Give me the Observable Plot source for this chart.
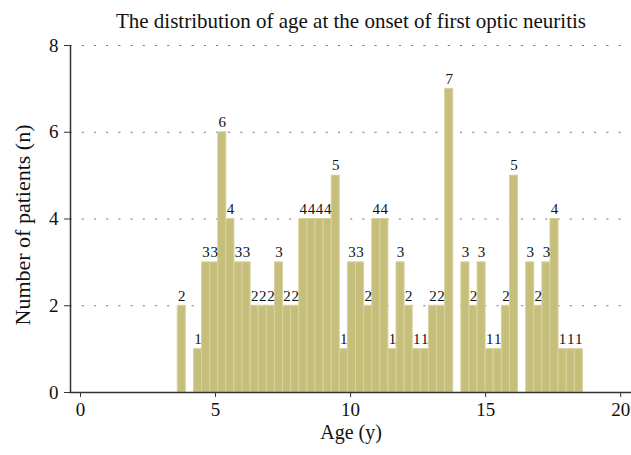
<!DOCTYPE html>
<html>
<head>
<meta charset="utf-8">
<script src="https://cdn.jsdelivr.net/npm/d3@7"></script>
<script src="https://cdn.jsdelivr.net/npm/@observablehq/plot@0.6"></script>
<style>
  html, body { margin: 0; padding: 0; background: #fff; }
  svg { font-family: "Liberation Serif", "DejaVu Serif", serif; }
</style>
</head>
<body>
<div id="chart"></div>
<script>
// Data (bin start in years, bin width 0.3 y)
const titleText = "The distribution of age at the onset of first optic neuritis";
const xLabel = "Age (y)";
const yLabel = "Number of patients (n)";
const binWidth = 0.3;
const binStarts = [3.6, 3.9, 4.2, 4.5, 4.8, 5.1, 5.4, 5.7, 6.0, 6.3,
                   6.6, 6.9, 7.2, 7.5, 7.8, 8.1, 8.4, 8.7, 9.0, 9.3,
                   9.6, 9.9, 10.2, 10.5, 10.8, 11.1, 11.4, 11.7, 12.0, 12.3,
                   12.6, 12.9, 13.2, 13.5, 13.8, 14.1, 14.4, 14.7, 15.0, 15.3,
                   15.6, 15.9, 16.2, 16.5, 16.8, 17.1, 17.4, 17.7, 18.0, 18.3];
const counts = [2, 0, 1, 3, 3, 6, 4, 3, 3, 2,
                2, 2, 3, 2, 2, 4, 4, 4, 4, 5,
                1, 3, 3, 2, 4, 4, 1, 3, 2, 1,
                1, 2, 2, 7, 0, 3, 2, 3, 1, 1,
                2, 5, 0, 3, 2, 3, 4, 1, 1, 1];
const xTicks = [0, 5, 10, 15, 20];
const yTicks = [0, 2, 4, 6, 8];

const bins = binStarts.map((s, i) => ({x1: s, x2: +(s + binWidth).toFixed(2), n: counts[i]}));
const nonEmpty = bins.filter(d => d.n > 0);

const xMin = -0.37, xMax = 20.4;

const chart = Plot.plot({
  width: 631,
  height: 455,
  marginLeft: 70,
  marginRight: 0,
  marginTop: 45,
  marginBottom: 63,
  style: {fontFamily: '"Liberation Serif", "DejaVu Serif", serif', background: "#fff"},
  x: {domain: [xMin, xMax], ticks: xTicks},
  y: {domain: [0, 8], ticks: yTicks},
  marks: [
    // dotted grid
    Plot.ruleY(yTicks.filter(t => t > 0), {stroke: "#777", strokeWidth: 1.2, strokeDasharray: "1.2,11", strokeLinecap: "round"}),
    // bars
    Plot.rectY(nonEmpty, {x1: "x1", x2: "x2", y: "n", fill: "#c6bf7c", stroke: "#d8d29f", strokeWidth: 1, inset: 0}),
    // bar value labels
    Plot.text(nonEmpty, {x: d => (d.x1 + d.x2) / 2, y: "n", text: d => String(d.n), dy: -10, fontSize: 15, fill: "#111"}),
    // axes
    Plot.axisX({ticks: xTicks, tickSize: 5, tickPadding: 5, fontSize: 19, label: null, stroke: "#333", color: "#111"}),
    Plot.axisY({ticks: yTicks, tickSize: 6, tickPadding: 6, fontSize: 19, label: null, stroke: "#333", color: "#111"}),
    Plot.ruleY([0], {stroke: "#333", strokeWidth: 1.5}),
    Plot.ruleX([xMin], {y1: 0, y2: 8, stroke: "#333", strokeWidth: 1.5}),
    // titles
    Plot.text([titleText], {frameAnchor: "top", dy: -32, fontSize: 21, fill: "#111"}),
    Plot.text([xLabel], {frameAnchor: "bottom", dy: 46, fontSize: 20, fill: "#111"}),
    Plot.text([yLabel], {frameAnchor: "left", textAnchor: "middle", dx: -48, dy: 6, rotate: -90, fontSize: 22, fill: "#111", letterSpacing: "0.9px"})
  ]
});
document.getElementById("chart").appendChild(chart);
</script>
</body>
</html>
